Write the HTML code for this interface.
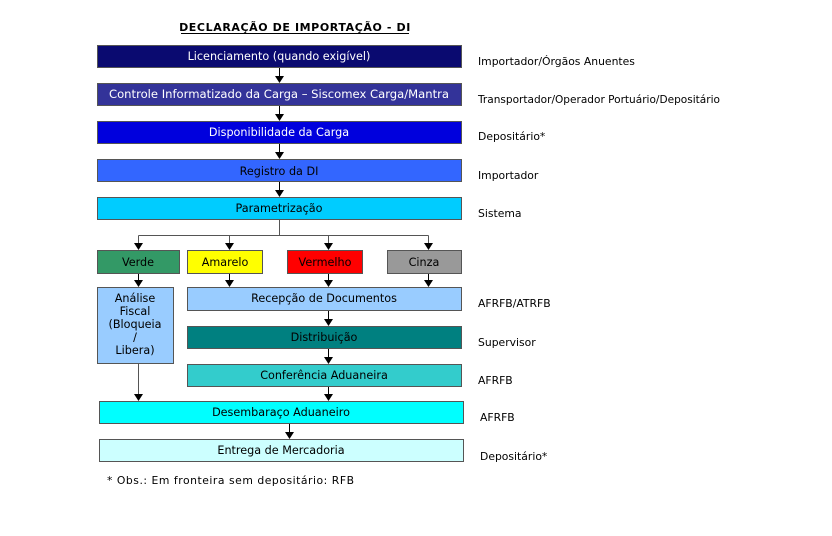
<!DOCTYPE html>
<html><head><meta charset="utf-8"><style>
html,body{margin:0;padding:0;background:#fff;}
svg{display:block;font-family:"DejaVu Sans","Liberation Sans",sans-serif;}
.w{fill:#fff;font-size:11.2px;}
.k{fill:#000;font-size:11.2px;}
.r{fill:#000;font-size:10.8px;}
</style></head><body>
<svg width="832" height="536" viewBox="0 0 832 536" xmlns="http://www.w3.org/2000/svg">
<text x="295" y="31" text-anchor="middle" font-size="11" font-weight="bold" fill="#000" letter-spacing="0.6">DECLARAÇÃO DE IMPORTAÇÃO - DI</text>
<line x1="181" y1="33.5" x2="409" y2="33.5" stroke="#000" stroke-width="1"/>
<g stroke="#555" stroke-width="1">
<rect x="97.5" y="45.5" width="364" height="22" fill="#0a0a70"/>
<rect x="97.5" y="83.5" width="364" height="22" fill="#333399"/>
<rect x="97.5" y="121.5" width="364" height="22" fill="#0000dd"/>
<rect x="97.5" y="159.5" width="364" height="22" fill="#3366ff"/>
<rect x="97.5" y="197.5" width="364" height="22" fill="#00ccff"/>
<rect x="97.5" y="250.5" width="82" height="23" fill="#339966"/>
<rect x="187.5" y="250.5" width="75" height="23" fill="#ffff00"/>
<rect x="287.5" y="250.5" width="75" height="23" fill="#ff0000"/>
<rect x="387.5" y="250.5" width="74" height="23" fill="#999999"/>
<rect x="97.5" y="287.5" width="76" height="76" fill="#99ccff"/>
<rect x="187.5" y="287.5" width="274" height="23" fill="#99ccff"/>
<rect x="187.5" y="326.5" width="274" height="22" fill="#008080"/>
<rect x="187.5" y="364.5" width="274" height="22" fill="#33cccc"/>
<rect x="99.5" y="401.5" width="364" height="22" fill="#00ffff"/>
<rect x="99.5" y="439.5" width="364" height="22" fill="#ccffff"/>
</g>
<g stroke="#000" stroke-width="1" fill="none">
<path d="M279.5 68V76M279.5 106V114M279.5 144V152M279.5 182V190"/>
<path d="M279.5 220V235.5M138.5 235.5H428.5M138.5 235.5V243M229.5 235.5V243M328.5 235.5V243M428.5 235.5V243" stroke="#555"/>
<path d="M138.5 274V280M229.5 274V280M328.5 274V280M428.5 274V280M328.5 311V319M328.5 349V357M328.5 387V394M289.5 424V432"/>
<path d="M138.5 364V394" stroke="#555"/>
</g>
<g fill="#000">
<path d="M275 76h9l-4.5 7zM275 114h9l-4.5 7zM275 152h9l-4.5 7zM275 190h9l-4.5 7z"/>
<path d="M134 243h9l-4.5 7zM225 243h9l-4.5 7zM324 243h9l-4.5 7zM424 243h9l-4.5 7z"/>
<path d="M134 280h9l-4.5 7zM225 280h9l-4.5 7zM324 280h9l-4.5 7zM424 280h9l-4.5 7z"/>
<path d="M324 319h9l-4.5 7zM324 357h9l-4.5 7zM324 394h9l-4.5 7zM134 394h9l-4.5 7zM285 432h9l-4.5 7z"/>
</g>
<g text-anchor="middle">
<text class="w" x="279" y="60">Licenciamento (quando exigível)</text>
<text class="w" x="279" y="98" textLength="340" lengthAdjust="spacingAndGlyphs">Controle Informatizado da Carga – Siscomex Carga/Mantra</text>
<text class="w" x="279" y="136">Disponibilidade da Carga</text>
<text class="k" x="279" y="175" font-size="12.5">Registro da DI</text>
<text class="k" x="279" y="212">Parametrização</text>
<text class="k" x="138" y="266">Verde</text>
<text class="k" x="225" y="266">Amarelo</text>
<text class="k" x="325" y="266" fill="#552222">Vermelho</text>
<text class="k" x="424" y="266">Cinza</text>
<text class="k" x="135" y="302">Análise</text>
<text class="k" x="135" y="315">Fiscal</text>
<text class="k" x="135" y="328">(Bloqueia</text>
<text class="k" x="135" y="341">/</text>
<text class="k" x="135" y="354">Libera)</text>
<text class="k" x="324" y="302">Recepção de Documentos</text>
<text class="k" x="324" y="341">Distribuição</text>
<text class="k" x="324" y="379">Conferência Aduaneira</text>
<text class="k" x="281" y="416">Desembaraço Aduaneiro</text>
<text class="k" x="281" y="454">Entrega de Mercadoria</text>
</g>
<text class="r" x="478" y="65">Importador/Órgãos Anuentes</text>
<text class="r" x="478" y="103" textLength="242" lengthAdjust="spacingAndGlyphs">Transportador/Operador Portuário/Depositário</text>
<text class="r" x="478" y="140">Depositário*</text>
<text class="r" x="478" y="179">Importador</text>
<text class="r" x="478" y="217">Sistema</text>
<text class="r" x="478" y="307">AFRFB/ATRFB</text>
<text class="r" x="478" y="346">Supervisor</text>
<text class="r" x="478" y="384">AFRFB</text>
<text class="r" x="480" y="421">AFRFB</text>
<text class="r" x="480" y="460">Depositário*</text>
<text class="r" x="107" y="484" font-size="11" textLength="247" lengthAdjust="spacing">* Obs.: Em fronteira sem depositário: RFB</text>
</svg>
</body></html>
